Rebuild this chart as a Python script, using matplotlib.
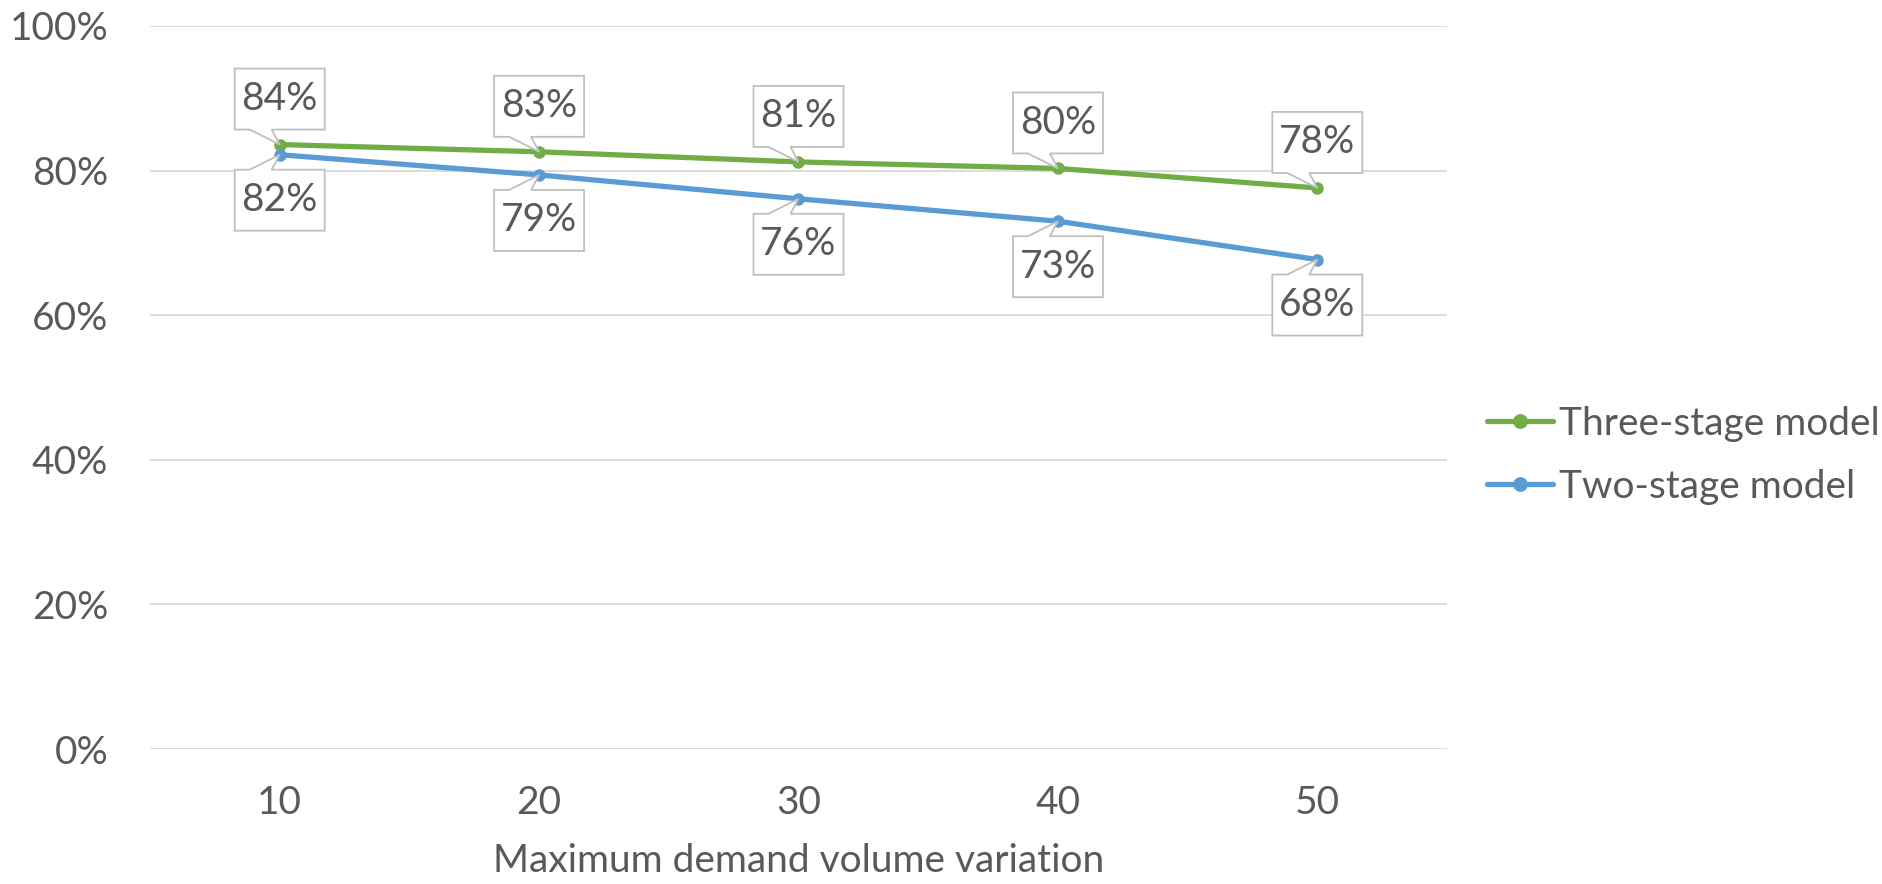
import matplotlib.pyplot as plt
import matplotlib.transforms as mtransforms
from matplotlib.patches import Polygon
from matplotlib.ticker import PercentFormatter

plt.rcParams['font.family'] = ['Lato', 'DejaVu Sans']

variation = [10, 20, 30, 40, 50]
three_stage = [0.836, 0.826, 0.812, 0.803, 0.776]
two_stage = [0.822, 0.794, 0.761, 0.730, 0.677]

GREEN = '#70AD47'
BLUE = '#5B9BD5'
TEXT = '#595959'
GRID = '#D9D9D9'
BOX = '#BFBFBF'
FS = 28

fig = plt.figure(figsize=(18.83, 8.84), dpi=100)
ax = fig.add_axes([150 / 1883, 135 / 884, 1297 / 1883, 723 / 884])

x = list(range(len(variation)))
ax.plot(x, three_stage, color=GREEN, lw=3.8, marker='o', ms=8,
        solid_capstyle='round', label='Three-stage model', zorder=3)
ax.plot(x, two_stage, color=BLUE, lw=3.8, marker='o', ms=8,
        solid_capstyle='round', label='Two-stage model', zorder=3)

ax.set_xlim(-0.5, len(x) - 0.5)
ax.set_ylim(0, 1)
ax.set_yticks([0, 0.2, 0.4, 0.6, 0.8, 1.0])
ax.yaxis.set_major_formatter(PercentFormatter(1.0, decimals=0))
ax.set_xticks(x)
ax.set_xticklabels([str(v) for v in variation])
ax.grid(axis='y', color=GRID, lw=1.3)
ax.set_axisbelow(True)
for s in ax.spines.values():
    s.set_visible(False)
ax.tick_params(length=0, labelsize=FS, labelcolor=TEXT)
ax.tick_params(axis='y', pad=30)
ax.tick_params(axis='x', pad=26)
ax.set_xlabel('Maximum demand volume variation', fontsize=FS, color=TEXT,
              labelpad=16)

leg = ax.legend(loc='center left', bbox_to_anchor=(1487 / 1883, 0.485),
                bbox_transform=fig.transFigure, frameon=False, fontsize=FS,
                handlelength=1.7, handletextpad=0.15, labelspacing=0.7,
                borderpad=0, borderaxespad=0, markerscale=1.2)
for t in leg.get_texts():
    t.set_color(TEXT)


def callout(xv, yv, text, above):
    # box with a wedge pointing at the data point, sized in pixels
    px, py = ax.transData.transform((xv, yv))
    w, h, gap = 90, 61, 15
    s = 1 if above else -1
    near = py + s * gap
    far = py + s * (gap + h)
    left, right = px - w / 2, px + w / 2
    verts = [(left, near), (px - 30, near), (px, py), (px - 8, near),
             (right, near), (right, far), (left, far)]
    poly = Polygon(verts, closed=True, facecolor='white', edgecolor=BOX,
                   lw=1.3, transform=mtransforms.IdentityTransform(), zorder=4)
    fig.patches.append(poly)
    fig.text(px / fig.bbox.width, (near + far) / 2 / fig.bbox.height, text,
             ha='center', va='center', fontsize=FS, color=TEXT, zorder=5)


for xi, v in zip(x, three_stage):
    callout(xi, v, f'{v * 100:.0f}%', True)
for xi, v in zip(x, two_stage):
    callout(xi, v, f'{v * 100:.0f}%', False)

fig.savefig('out.png', dpi=100)
